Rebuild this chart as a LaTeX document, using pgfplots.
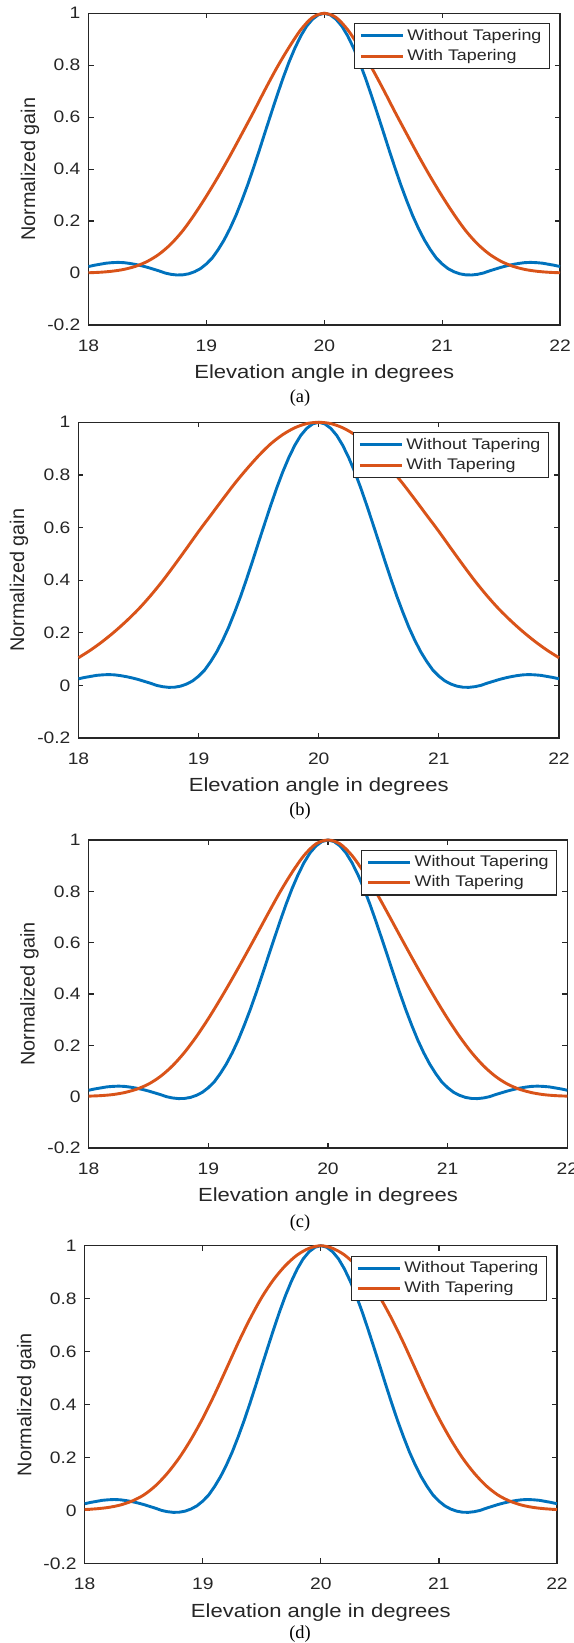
\documentclass[border=0pt]{standalone}
\usepackage{fontspec}
\usepackage{pgfplots}
\usepackage{pgfplotstable}
\pgfplotsset{compat=1.18}
\newfontfamily\arialS{Liberation Sans}[FakeStretch=1.16]
\newfontfamily\arialN{Liberation Sans}
\newfontfamily\timesN{Liberation Serif}
\newcommand\tickfont{\arialS\fontsize{8.3}{9.8}\selectfont}
\newcommand\labfont{\arialS\fontsize{9.5}{11.4}\selectfont}
\newcommand\ylabfont{\arialN\fontsize{9.9}{11.8}\selectfont}
\newcommand\legfont{\arialS\fontsize{7.7}{9.2}\selectfont}
\newcommand\capfont{\timesN\fontsize{9.2}{11}\selectfont}
\definecolor{mblue}{HTML}{0072BD}
\definecolor{morange}{HTML}{D95319}
\definecolor{axgray}{HTML}{262626}

\pgfplotstableread{
x y
18.00 0.025
18.05 0.030
18.10 0.034
18.15 0.038
18.20 0.040
18.25 0.041
18.30 0.040
18.35 0.037
18.40 0.033
18.45 0.028
18.50 0.022
18.55 0.015
18.60 0.008
18.65 0.000
18.70 -0.005
18.75 -0.0075
18.80 -0.007
18.85 -0.003
18.90 0.005
18.95 0.017
19.00 0.035
19.05 0.058
19.10 0.090
19.15 0.127
19.20 0.171
19.25 0.221
19.30 0.278
19.35 0.339
19.40 0.405
19.45 0.474
19.50 0.545
19.55 0.615
19.60 0.684
19.65 0.750
19.70 0.811
19.75 0.865
19.80 0.912
19.85 0.950
19.90 0.977
19.95 0.994
20.00 1.000
20.05 0.994
20.10 0.977
20.15 0.950
20.20 0.912
20.25 0.865
20.30 0.811
20.35 0.750
20.40 0.684
20.45 0.615
20.50 0.545
20.55 0.474
20.60 0.405
20.65 0.339
20.70 0.278
20.75 0.221
20.80 0.171
20.85 0.127
20.90 0.090
20.95 0.058
21.00 0.035
21.05 0.017
21.10 0.005
21.15 -0.003
21.20 -0.007
21.25 -0.0075
21.30 -0.005
21.35 0.000
21.40 0.008
21.45 0.015
21.50 0.022
21.55 0.028
21.60 0.033
21.65 0.037
21.70 0.040
21.75 0.041
21.80 0.040
21.85 0.038
21.90 0.034
21.95 0.030
22.00 0.025
}\tblue

\pgfplotstableread{
x y
18.0 0.001
18.1 0.003
18.2 0.007
18.3 0.014
18.4 0.026
18.5 0.045
18.6 0.073
18.7 0.112
18.8 0.163
18.9 0.226
19.0 0.296
19.1 0.371
19.2 0.451
19.3 0.535
19.4 0.620
19.5 0.708
19.6 0.792
19.7 0.868
19.8 0.936
19.9 0.984
20.0 1.000
20.1 0.984
20.2 0.936
20.3 0.868
20.4 0.792
20.5 0.708
20.6 0.620
20.7 0.535
20.8 0.451
20.9 0.371
21.0 0.296
21.1 0.226
21.2 0.163
21.3 0.112
21.4 0.073
21.5 0.045
21.6 0.026
21.7 0.014
21.8 0.007
21.9 0.003
22.0 0.001
}\torA

\pgfplotstableread{
x y
18.0 0.105
18.1 0.134
18.2 0.167
18.3 0.204
18.4 0.245
18.5 0.290
18.6 0.341
18.7 0.397
18.8 0.458
18.9 0.521
19.0 0.585
19.1 0.646
19.2 0.707
19.3 0.767
19.4 0.822
19.5 0.873
19.6 0.918
19.7 0.953
19.8 0.979
19.9 0.995
20.0 1.000
20.1 0.995
20.2 0.979
20.3 0.953
20.4 0.918
20.5 0.873
20.6 0.822
20.7 0.767
20.8 0.707
20.9 0.646
21.0 0.585
21.1 0.521
21.2 0.458
21.3 0.397
21.4 0.341
21.5 0.290
21.6 0.245
21.7 0.204
21.8 0.167
21.9 0.134
22.0 0.105
}\torB

\pgfplotstableread{
x y
18.0 0.002
18.1 0.004
18.2 0.008
18.3 0.016
18.4 0.029
18.5 0.049
18.6 0.079
18.7 0.120
18.8 0.172
18.9 0.234
19.0 0.304
19.1 0.380
19.2 0.460
19.3 0.543
19.4 0.628
19.5 0.714
19.6 0.798
19.7 0.874
19.8 0.940
19.9 0.985
20.0 1.000
20.1 0.985
20.2 0.940
20.3 0.874
20.4 0.798
20.5 0.714
20.6 0.628
20.7 0.543
20.8 0.460
20.9 0.380
21.0 0.304
21.1 0.234
21.2 0.172
21.3 0.120
21.4 0.079
21.5 0.049
21.6 0.029
21.7 0.016
21.8 0.008
21.9 0.004
22.0 0.002
}\torC

\pgfplotstableread{
x y
18.0 0.003
18.1 0.006
18.2 0.011
18.3 0.020
18.4 0.035
18.5 0.058
18.6 0.093
18.7 0.140
18.8 0.198
18.9 0.268
19.0 0.348
19.1 0.438
19.2 0.535
19.3 0.633
19.4 0.724
19.5 0.805
19.6 0.872
19.7 0.925
19.8 0.965
19.9 0.990
20.0 1.000
20.1 0.990
20.2 0.965
20.3 0.925
20.4 0.872
20.5 0.805
20.6 0.724
20.7 0.633
20.8 0.535
20.9 0.438
21.0 0.348
21.1 0.268
21.2 0.198
21.3 0.140
21.4 0.093
21.5 0.058
21.6 0.035
21.7 0.020
21.8 0.011
21.9 0.006
22.0 0.003
}\torD

\pgfplotsset{
  panel/.style={
    scale only axis,
    anchor=south west,
    xmin=18, xmax=22, ymin=-0.2, ymax=1,
    xtick={18,19,20,21,22}, xticklabels={18,19,20,21,22},
    ytick={-0.2,0,0.2,0.4,0.6,0.8,1},
    yticklabels={-0.2,0,0.2,0.4,0.6,0.8,1},
    tick align=inside,
    major tick length=2.5pt,
    axis line style={draw=axgray, line width=0.6pt},
    every tick/.style={draw=axgray, line width=0.6pt},
    xticklabel style={font=\tickfont, text=axgray, yshift=-4pt},
    yticklabel style={font=\tickfont, text=axgray, xshift=-0.5pt},
    xlabel={Elevation angle in degrees},
    ylabel={Normalized gain},
    every axis x label/.style={at={(axis description cs:0.5,0)}, anchor=base, yshift=-27pt, font=\labfont, text=axgray},
    every axis y label/.style={at={(axis description cs:-0.113,0.5)}, rotate=90, anchor=base, font=\ylabfont, text=axgray},
    clip=false,
    legend cell align=left,
    legend style={at={(1,1)}, anchor=north east, xshift=-5pt, yshift=-5pt,
      draw=axgray, line width=0.6pt, fill=white, font=\legfont, text=axgray,
      inner xsep=2.5pt, inner ysep=1pt, row sep=0pt,
      nodes={inner sep=1.5pt}},
    legend image code/.code={\draw[##1, line width=1.5pt] (0pt,0pt) -- (21pt,0pt);},
  },
  bl/.style={draw=mblue, line width=1.45pt},
  orr/.style={draw=morange, line width=1.45pt, smooth},
}

\begin{document}
\begin{tikzpicture}[x=1pt,y=1pt]
\begin{axis}[panel, at={(44.25pt,659pt)}, width=235.75pt, height=155.85pt]
\addplot[bl] table {\tblue};
\addplot[orr] table {\torA};
\legend{Without Tapering, With Tapering}
\end{axis}
\node[font=\capfont] at (150pt,622.5pt) {(a)};

\begin{axis}[panel, at={(39.25pt,452.5pt)}, width=240.25pt, height=157.85pt]
\addplot[bl] table {\tblue};
\addplot[orr] table {\torB};
\legend{Without Tapering, With Tapering}
\end{axis}
\node[font=\capfont] at (150pt,416pt) {(b)};

\begin{axis}[panel, at={(44.35pt,247.5pt)}, width=239.3pt, height=154pt]
\addplot[bl] table {\tblue};
\addplot[orr] table {\torC};
\legend{Without Tapering, With Tapering}
\end{axis}
\node[font=\capfont] at (150pt,210pt) {(c)};

\begin{axis}[panel, at={(42.35pt,39.85pt)}, width=236.15pt, height=158.8pt]
\addplot[bl] table {\tblue};
\addplot[orr] table {\torD};
\legend{Without Tapering, With Tapering}
\end{axis}
\node[font=\capfont] at (150pt,4.5pt) {(d)};

\pgfresetboundingbox
\useasboundingbox (0pt,0pt) rectangle (286.5pt,821.5pt);
\end{tikzpicture}
\end{document}
